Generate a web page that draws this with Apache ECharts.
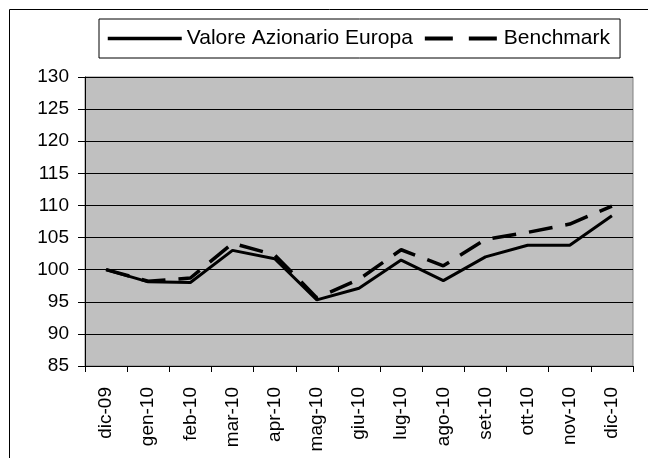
<!DOCTYPE html>
<html>
<head>
<meta charset="utf-8">
<script src="https://cdn.jsdelivr.net/npm/echarts@6/dist/echarts.min.js"></script>
<style>
  html, body { margin: 0; padding: 0; background: #fff; }
  #chart { width: 648px; height: 458px; }
</style>
</head>
<body>
<div id="chart"></div>
<script>
const categories = ['dic-09', 'gen-10', 'feb-10', 'mar-10', 'apr-10', 'mag-10', 'giu-10',
  'lug-10', 'ago-10', 'set-10', 'ott-10', 'nov-10', 'dic-10'];
const valore = [100, 98.1, 98.0, 103.0, 101.7, 95.3, 97.1, 101.5, 98.3, 102.0, 103.8, 103.8, 108.4];
const benchmark = [100, 98.2, 98.7, 104.1, 102.3, 95.6, 98.5, 103.1, 100.6, 104.7, 105.8, 107.1, 109.9];
const yTicks = { min: 85, max: 130, step: 5 };

const font = 'Liberation Sans, Arial, sans-serif';

const chart = echarts.init(document.getElementById('chart'));
chart.setOption({
  animation: false,
  graphic: [{
    type: 'rect',
    shape: { x: 9.5, y: 9.5, width: 700, height: 500 },
    style: { fill: 'none', stroke: '#000', lineWidth: 1 },
    silent: true
  }],
  legend: {
    left: 99,
    top: 19,
    padding: [9, 10, 9, 7],
    borderColor: '#000',
    borderWidth: 1,
    itemWidth: 74,
    itemHeight: 14,
    itemGap: 10,
    itemStyle: { opacity: 0, borderWidth: 0 },
    textStyle: { fontFamily: font, fontSize: 21, color: '#000' },
    data: [
      { name: 'Valore Azionario Europa', lineStyle: { width: 3.5 } },
      { name: 'Benchmark', lineStyle: { width: 4, type: [28, 16] } }
    ]
  },
  grid: {
    left: 85,
    right: 15,
    top: 77,
    bottom: 92,
    show: true,
    backgroundColor: '#c0c0c0',
    borderColor: '#808080',
    borderWidth: 1
  },
  xAxis: {
    type: 'category',
    data: categories,
    boundaryGap: true,
    axisLine: { lineStyle: { color: '#000', width: 1 } },
    axisTick: { show: true, length: 6, lineStyle: { color: '#000' } },
    axisLabel: {
      rotate: 90,
      margin: 21,
      fontFamily: font,
      fontSize: 19,
      color: '#000',
      interval: 0
    }
  },
  yAxis: {
    type: 'value',
    min: yTicks.min,
    max: yTicks.max,
    interval: yTicks.step,
    axisLine: { show: true, lineStyle: { color: '#000', width: 1 } },
    axisTick: { show: true, length: 7, lineStyle: { color: '#000' } },
    axisLabel: { margin: 16, fontFamily: font, fontSize: 19, color: '#000' },
    splitLine: { lineStyle: { color: '#000', width: 1 } }
  },
  series: [
    {
      name: 'Valore Azionario Europa',
      type: 'line',
      data: valore,
      symbol: 'none',
      lineStyle: { color: '#000', width: 3 },
      itemStyle: { color: '#000' },
      z: 3
    },
    {
      name: 'Benchmark',
      type: 'line',
      data: benchmark,
      symbol: 'none',
      lineStyle: { color: '#000', width: 3.5, type: [24, 13] },
      itemStyle: { color: '#000' },
      z: 2
    }
  ]
});
</script>
</body>
</html>
